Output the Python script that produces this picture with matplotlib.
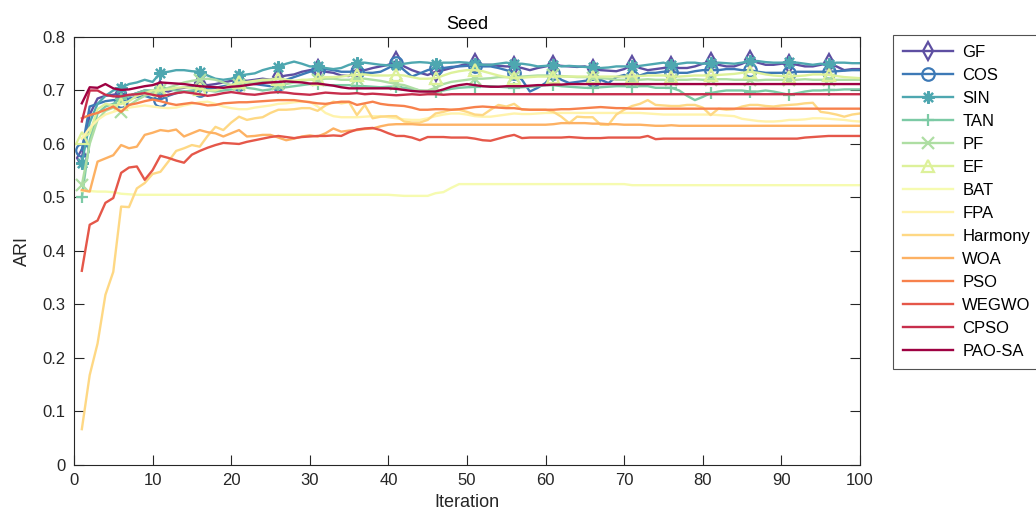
import numpy as np
import matplotlib
matplotlib.use("Agg")
import matplotlib.pyplot as plt
from matplotlib.ticker import FuncFormatter

plt.rcParams['font.family'] = ['Liberation Sans', 'DejaVu Sans']

iterations = list(range(1, 101))

GF = [0.573, 0.655, 0.685, 0.690, 0.692, 0.695, 0.690, 0.695, 0.700, 0.698,
      0.700, 0.698, 0.703, 0.705, 0.708, 0.714, 0.710, 0.712, 0.715, 0.718,
      0.720, 0.718, 0.720, 0.722, 0.720, 0.725, 0.728, 0.730, 0.735, 0.738,
      0.740, 0.735, 0.733, 0.728, 0.727, 0.740, 0.738, 0.742, 0.745, 0.748,
      0.755, 0.745, 0.738, 0.733, 0.729, 0.735, 0.738, 0.742, 0.746, 0.750,
      0.751, 0.748, 0.748, 0.746, 0.745, 0.745, 0.742, 0.738, 0.742, 0.745,
      0.748, 0.746, 0.745, 0.744, 0.745, 0.740, 0.738, 0.737, 0.736, 0.740,
      0.748, 0.742, 0.738, 0.740, 0.742, 0.745, 0.742, 0.742, 0.745, 0.750,
      0.754, 0.748, 0.745, 0.745, 0.750, 0.757, 0.752, 0.748, 0.748, 0.750,
      0.750, 0.748, 0.745, 0.745, 0.748, 0.751, 0.745, 0.738, 0.740, 0.740]

COS = [0.589, 0.670, 0.675, 0.680, 0.682, 0.680, 0.685, 0.688, 0.690, 0.685,
       0.683, 0.690, 0.695, 0.698, 0.697, 0.700, 0.703, 0.705, 0.708, 0.710,
       0.712, 0.715, 0.712, 0.710, 0.708, 0.712, 0.720, 0.725, 0.730, 0.735,
       0.738, 0.740, 0.738, 0.735, 0.735, 0.735, 0.733, 0.733, 0.735, 0.742,
       0.751, 0.738, 0.726, 0.732, 0.738, 0.742, 0.742, 0.744, 0.745, 0.746,
       0.746, 0.745, 0.745, 0.742, 0.738, 0.733, 0.720, 0.698, 0.705, 0.714,
       0.733, 0.720, 0.714, 0.716, 0.718, 0.720, 0.720, 0.714, 0.725, 0.729,
       0.726, 0.728, 0.733, 0.733, 0.735, 0.735, 0.733, 0.733, 0.736, 0.738,
       0.738, 0.738, 0.740, 0.740, 0.738, 0.738, 0.735, 0.733, 0.733, 0.733,
       0.733, 0.735, 0.735, 0.735, 0.735, 0.735, 0.736, 0.737, 0.738, 0.738]

SIN = [0.564, 0.640, 0.675, 0.690, 0.700, 0.705, 0.712, 0.715, 0.720, 0.716,
       0.733, 0.735, 0.738, 0.738, 0.736, 0.735, 0.728, 0.722, 0.720, 0.722,
       0.728, 0.730, 0.732, 0.738, 0.742, 0.744, 0.750, 0.754, 0.750, 0.745,
       0.745, 0.742, 0.740, 0.742, 0.748, 0.752, 0.752, 0.750, 0.748, 0.747,
       0.748, 0.750, 0.752, 0.753, 0.752, 0.750, 0.752, 0.752, 0.753, 0.752,
       0.750, 0.748, 0.748, 0.750, 0.752, 0.750, 0.750, 0.748, 0.745, 0.746,
       0.748, 0.745, 0.746, 0.745, 0.744, 0.744, 0.742, 0.743, 0.745, 0.745,
       0.745, 0.746, 0.748, 0.750, 0.752, 0.748, 0.750, 0.752, 0.752, 0.750,
       0.752, 0.752, 0.751, 0.750, 0.752, 0.755, 0.755, 0.753, 0.752, 0.752,
       0.753, 0.752, 0.750, 0.748, 0.750, 0.749, 0.752, 0.752, 0.751, 0.751]

TAN = [0.500, 0.607, 0.657, 0.670, 0.675, 0.685, 0.690, 0.695, 0.700, 0.700,
       0.705, 0.703, 0.700, 0.698, 0.700, 0.702, 0.700, 0.698, 0.700, 0.702,
       0.705, 0.705, 0.703, 0.700, 0.702, 0.705, 0.706, 0.708, 0.710, 0.712,
       0.712, 0.710, 0.710, 0.710, 0.710, 0.708, 0.708, 0.707, 0.706, 0.707,
       0.707, 0.705, 0.703, 0.700, 0.698, 0.698, 0.700, 0.703, 0.705, 0.706,
       0.707, 0.708, 0.708, 0.707, 0.706, 0.705, 0.706, 0.707, 0.708, 0.710,
       0.710, 0.708, 0.707, 0.706, 0.705, 0.705, 0.706, 0.707, 0.708, 0.708,
       0.707, 0.708, 0.708, 0.705, 0.705, 0.705, 0.700, 0.690, 0.682, 0.688,
       0.695, 0.698, 0.700, 0.700, 0.700, 0.698, 0.698, 0.700, 0.698, 0.695,
       0.692, 0.695, 0.698, 0.700, 0.700, 0.701, 0.701, 0.702, 0.702, 0.702]

PF = [0.523, 0.600, 0.645, 0.662, 0.668, 0.660, 0.672, 0.682, 0.690, 0.695,
      0.700, 0.705, 0.710, 0.715, 0.718, 0.720, 0.722, 0.720, 0.715, 0.710,
      0.710, 0.712, 0.715, 0.716, 0.715, 0.713, 0.712, 0.715, 0.718, 0.720,
      0.720, 0.722, 0.722, 0.720, 0.720, 0.722, 0.722, 0.720, 0.718, 0.715,
      0.712, 0.710, 0.705, 0.700, 0.700, 0.705, 0.712, 0.716, 0.718, 0.720,
      0.722, 0.722, 0.723, 0.725, 0.725, 0.725, 0.726, 0.727, 0.728, 0.728,
      0.728, 0.727, 0.726, 0.725, 0.725, 0.724, 0.723, 0.722, 0.720, 0.720,
      0.720, 0.720, 0.721, 0.720, 0.720, 0.719, 0.720, 0.720, 0.721, 0.720,
      0.720, 0.721, 0.721, 0.720, 0.720, 0.720, 0.719, 0.720, 0.720, 0.720,
      0.720, 0.720, 0.721, 0.720, 0.720, 0.720, 0.720, 0.720, 0.720, 0.720]

EF = [0.611, 0.620, 0.665, 0.675, 0.672, 0.675, 0.680, 0.690, 0.695, 0.700,
      0.700, 0.702, 0.705, 0.706, 0.705, 0.703, 0.700, 0.700, 0.705, 0.710,
      0.715, 0.716, 0.718, 0.720, 0.720, 0.722, 0.720, 0.718, 0.720, 0.720,
      0.722, 0.725, 0.725, 0.726, 0.728, 0.729, 0.730, 0.728, 0.728, 0.728,
      0.729, 0.728, 0.725, 0.722, 0.722, 0.723, 0.728, 0.733, 0.736, 0.738,
      0.738, 0.736, 0.732, 0.728, 0.725, 0.723, 0.724, 0.725, 0.726, 0.726,
      0.726, 0.726, 0.726, 0.726, 0.726, 0.726, 0.726, 0.726, 0.726, 0.726,
      0.726, 0.727, 0.728, 0.728, 0.728, 0.726, 0.726, 0.727, 0.728, 0.728,
      0.728, 0.729, 0.730, 0.731, 0.733, 0.735, 0.733, 0.730, 0.728, 0.727,
      0.726, 0.727, 0.728, 0.730, 0.730, 0.729, 0.727, 0.725, 0.724, 0.723]

BAT = [0.512, 0.512, 0.511, 0.511, 0.510, 0.507, 0.506, 0.505, 0.505, 0.505,
       0.505, 0.505, 0.505, 0.505, 0.505, 0.505, 0.505, 0.505, 0.505, 0.505,
       0.505, 0.505, 0.505, 0.505, 0.505, 0.505, 0.505, 0.505, 0.505, 0.505,
       0.505, 0.505, 0.505, 0.505, 0.505, 0.505, 0.505, 0.505, 0.505, 0.505,
       0.504, 0.503, 0.503, 0.503, 0.503, 0.508, 0.510, 0.518, 0.525, 0.525,
       0.525, 0.525, 0.525, 0.525, 0.525, 0.525, 0.525, 0.525, 0.525, 0.525,
       0.525, 0.525, 0.525, 0.525, 0.525, 0.525, 0.525, 0.525, 0.525, 0.525,
       0.523, 0.523, 0.523, 0.523, 0.523, 0.523, 0.523, 0.523, 0.523, 0.523,
       0.523, 0.523, 0.523, 0.523, 0.523, 0.523, 0.523, 0.523, 0.523, 0.523,
       0.523, 0.523, 0.523, 0.523, 0.523, 0.523, 0.523, 0.523, 0.523, 0.523]

FPA = [0.610, 0.630, 0.645, 0.655, 0.660, 0.665, 0.668, 0.670, 0.672, 0.670,
       0.668, 0.667, 0.668, 0.672, 0.675, 0.678, 0.679, 0.675, 0.670, 0.667,
       0.665, 0.665, 0.668, 0.670, 0.672, 0.675, 0.676, 0.678, 0.679, 0.679,
       0.670, 0.658, 0.652, 0.650, 0.650, 0.650, 0.651, 0.652, 0.652, 0.650,
       0.648, 0.646, 0.645, 0.645, 0.648, 0.652, 0.655, 0.657, 0.657, 0.655,
       0.652, 0.651, 0.651, 0.653, 0.655, 0.657, 0.656, 0.656, 0.657, 0.658,
       0.658, 0.658, 0.658, 0.658, 0.658, 0.658, 0.658, 0.658, 0.658, 0.658,
       0.658, 0.658, 0.657, 0.656, 0.655, 0.655, 0.655, 0.655, 0.655, 0.655,
       0.655, 0.654, 0.653, 0.652, 0.647, 0.645, 0.643, 0.642, 0.642, 0.643,
       0.645, 0.645, 0.646, 0.648, 0.648, 0.647, 0.646, 0.645, 0.643, 0.642]

Harmony = [0.067, 0.168, 0.227, 0.318, 0.361, 0.483, 0.482, 0.517, 0.527, 0.544,
           0.548, 0.567, 0.587, 0.592, 0.598, 0.595, 0.615, 0.632, 0.626, 0.640,
           0.651, 0.645, 0.648, 0.650, 0.658, 0.664, 0.664, 0.665, 0.667, 0.667,
           0.662, 0.672, 0.679, 0.676, 0.678, 0.654, 0.673, 0.648, 0.651, 0.652,
           0.652, 0.642, 0.640, 0.640, 0.645, 0.657, 0.660, 0.664, 0.664, 0.660,
           0.655, 0.654, 0.664, 0.673, 0.670, 0.675, 0.664, 0.664, 0.664, 0.664,
           0.660, 0.651, 0.639, 0.651, 0.650, 0.650, 0.636, 0.636, 0.655, 0.664,
           0.671, 0.675, 0.682, 0.673, 0.672, 0.671, 0.671, 0.673, 0.673, 0.668,
           0.654, 0.666, 0.664, 0.665, 0.670, 0.673, 0.673, 0.671, 0.670, 0.672,
           0.673, 0.674, 0.676, 0.677, 0.660, 0.658, 0.655, 0.651, 0.655, 0.657]

WOA = [0.514, 0.511, 0.567, 0.573, 0.579, 0.598, 0.592, 0.595, 0.617, 0.621,
       0.626, 0.624, 0.627, 0.614, 0.620, 0.626, 0.622, 0.620, 0.614, 0.620,
       0.626, 0.614, 0.615, 0.617, 0.617, 0.612, 0.607, 0.610, 0.614, 0.616,
       0.614, 0.620, 0.629, 0.623, 0.625, 0.626, 0.628, 0.629, 0.633, 0.636,
       0.637, 0.637, 0.637, 0.636, 0.636, 0.636, 0.636, 0.636, 0.636, 0.636,
       0.636, 0.636, 0.636, 0.636, 0.636, 0.636, 0.636, 0.636, 0.636, 0.636,
       0.637, 0.639, 0.639, 0.639, 0.639, 0.638, 0.638, 0.637, 0.637, 0.636,
       0.636, 0.636, 0.635, 0.634, 0.634, 0.635, 0.634, 0.634, 0.634, 0.634,
       0.634, 0.634, 0.634, 0.634, 0.634, 0.634, 0.634, 0.634, 0.634, 0.634,
       0.634, 0.634, 0.634, 0.634, 0.634, 0.634, 0.634, 0.634, 0.634, 0.634]

PSO = [0.648, 0.654, 0.658, 0.664, 0.670, 0.660, 0.673, 0.676, 0.680, 0.683,
       0.680, 0.676, 0.673, 0.675, 0.677, 0.675, 0.672, 0.673, 0.676, 0.677,
       0.678, 0.678, 0.679, 0.680, 0.681, 0.682, 0.682, 0.682, 0.680, 0.678,
       0.676, 0.675, 0.677, 0.679, 0.679, 0.673, 0.676, 0.679, 0.675, 0.673,
       0.672, 0.671, 0.668, 0.664, 0.664, 0.665, 0.665, 0.664, 0.665, 0.667,
       0.669, 0.670, 0.669, 0.668, 0.667, 0.667, 0.665, 0.664, 0.664, 0.664,
       0.664, 0.665, 0.665, 0.666, 0.667, 0.668, 0.669, 0.668, 0.667, 0.667,
       0.666, 0.666, 0.666, 0.666, 0.666, 0.666, 0.666, 0.666, 0.666, 0.666,
       0.666, 0.666, 0.666, 0.666, 0.666, 0.666, 0.666, 0.666, 0.666, 0.666,
       0.666, 0.666, 0.666, 0.666, 0.666, 0.666, 0.666, 0.666, 0.666, 0.666]

WEGWO = [0.363, 0.449, 0.457, 0.490, 0.499, 0.546, 0.556, 0.558, 0.533, 0.551,
         0.578, 0.574, 0.569, 0.565, 0.580, 0.587, 0.593, 0.598, 0.602, 0.601,
         0.600, 0.604, 0.607, 0.610, 0.613, 0.615, 0.613, 0.611, 0.613, 0.614,
         0.615, 0.615, 0.616, 0.615, 0.622, 0.627, 0.629, 0.630, 0.626, 0.620,
         0.615, 0.615, 0.612, 0.607, 0.613, 0.613, 0.613, 0.612, 0.612, 0.612,
         0.610, 0.607, 0.606, 0.610, 0.614, 0.617, 0.611, 0.612, 0.612, 0.612,
         0.612, 0.612, 0.613, 0.612, 0.611, 0.611, 0.611, 0.612, 0.612, 0.612,
         0.612, 0.612, 0.615, 0.609, 0.610, 0.610, 0.610, 0.610, 0.610, 0.610,
         0.610, 0.610, 0.610, 0.610, 0.610, 0.610, 0.610, 0.610, 0.610, 0.610,
         0.610, 0.610, 0.612, 0.613, 0.614, 0.615, 0.615, 0.615, 0.615, 0.615]

CPSO = [0.642, 0.700, 0.700, 0.692, 0.689, 0.689, 0.692, 0.693, 0.695, 0.692,
        0.689, 0.692, 0.695, 0.697, 0.695, 0.693, 0.690, 0.692, 0.695, 0.697,
        0.695, 0.693, 0.692, 0.694, 0.696, 0.697, 0.696, 0.694, 0.693, 0.692,
        0.694, 0.696, 0.695, 0.694, 0.694, 0.695, 0.693, 0.694, 0.693, 0.692,
        0.691, 0.692, 0.693, 0.692, 0.693, 0.693, 0.692, 0.693, 0.693, 0.693,
        0.693, 0.693, 0.693, 0.693, 0.693, 0.693, 0.693, 0.693, 0.693, 0.693,
        0.693, 0.693, 0.693, 0.693, 0.693, 0.693, 0.693, 0.693, 0.693, 0.693,
        0.693, 0.693, 0.693, 0.693, 0.693, 0.693, 0.693, 0.693, 0.693, 0.693,
        0.693, 0.693, 0.693, 0.693, 0.693, 0.693, 0.693, 0.693, 0.693, 0.693,
        0.693, 0.693, 0.693, 0.693, 0.693, 0.693, 0.693, 0.693, 0.693, 0.693]

PAO_SA = [0.676, 0.706, 0.705, 0.712, 0.704, 0.701, 0.702, 0.705, 0.708, 0.710,
          0.715, 0.714, 0.713, 0.712, 0.710, 0.708, 0.707, 0.706, 0.705, 0.707,
          0.708, 0.710, 0.712, 0.714, 0.715, 0.716, 0.717, 0.716, 0.715, 0.713,
          0.713, 0.711, 0.709, 0.706, 0.704, 0.704, 0.704, 0.704, 0.704, 0.704,
          0.703, 0.701, 0.699, 0.698, 0.698, 0.698, 0.702, 0.707, 0.710, 0.712,
          0.710, 0.708, 0.707, 0.707, 0.708, 0.708, 0.708, 0.709, 0.710, 0.710,
          0.711, 0.711, 0.712, 0.712, 0.712, 0.712, 0.712, 0.712, 0.712, 0.712,
          0.712, 0.712, 0.712, 0.712, 0.712, 0.712, 0.712, 0.712, 0.712, 0.712,
          0.712, 0.712, 0.712, 0.712, 0.712, 0.712, 0.712, 0.712, 0.712, 0.712,
          0.712, 0.712, 0.712, 0.712, 0.712, 0.712, 0.712, 0.712, 0.712, 0.712]

labels = ["GF", "COS", "SIN", "TAN", "PF", "EF", "BAT", "FPA", "Harmony",
          "WOA", "PSO", "WEGWO", "CPSO", "PAO-SA"]
series = [GF, COS, SIN, TAN, PF, EF, BAT, FPA, Harmony, WOA, PSO, WEGWO, CPSO, PAO_SA]
asterisk = (8, 2, 0)
markers = ["d", "o", asterisk, "+", "x", "^", None, None, None, None, None, None, None, None]
x_ticks = [0, 10, 20, 30, 40, 50, 60, 70, 80, 90, 100]
y_ticks = [0, 0.1, 0.2, 0.3, 0.4, 0.5, 0.6, 0.7, 0.8]

cmap = plt.get_cmap("Spectral_r")
colors = [cmap(v) for v in np.linspace(0, 1, len(labels))]

fig = plt.figure(figsize=(10.36, 5.23), dpi=100)
ax = fig.add_axes([0.0714, 0.1109, 0.7587, 0.8184])

for lab, ys, mk, c in zip(labels, series, markers, colors):
    kw = dict(color=c, lw=1.7, label=lab)
    if mk is not None:
        kw.update(marker=mk, markevery=5, markersize=9,
                  markerfacecolor="none", markeredgecolor=c, markeredgewidth=1.6)
    ax.plot(iterations, ys, **kw)

axc = "#262626"
ax.set_xlim(0, 100)
ax.set_ylim(0, 0.8)
ax.set_xticks(x_ticks)
ax.set_yticks(y_ticks)
ax.yaxis.set_major_formatter(FuncFormatter(lambda v, p: "0" if abs(v) < 1e-9 else f"{v:g}"))
ax.tick_params(direction="in", length=7, width=0.8, top=True, right=True,
               labelsize=12, colors=axc, pad=6)
for s in ax.spines.values():
    s.set_color(axc)
    s.set_linewidth(0.8)
ax.set_xlabel("Iteration", fontsize=13, color=axc, labelpad=4)
ax.set_ylabel("ARI", fontsize=13, color=axc, labelpad=8)
ax.set_title("Seed", fontsize=13, color="black", pad=6)

leg = ax.legend(loc="upper left", bbox_to_anchor=(1.042, 1.005), borderaxespad=0,
                fontsize=12, frameon=True, fancybox=False, edgecolor=axc,
                handlelength=3.0, labelspacing=0.48, borderpad=0.6, handletextpad=0.55)
leg.get_frame().set_linewidth(0.8)

fig.savefig("out.png", dpi=100)
